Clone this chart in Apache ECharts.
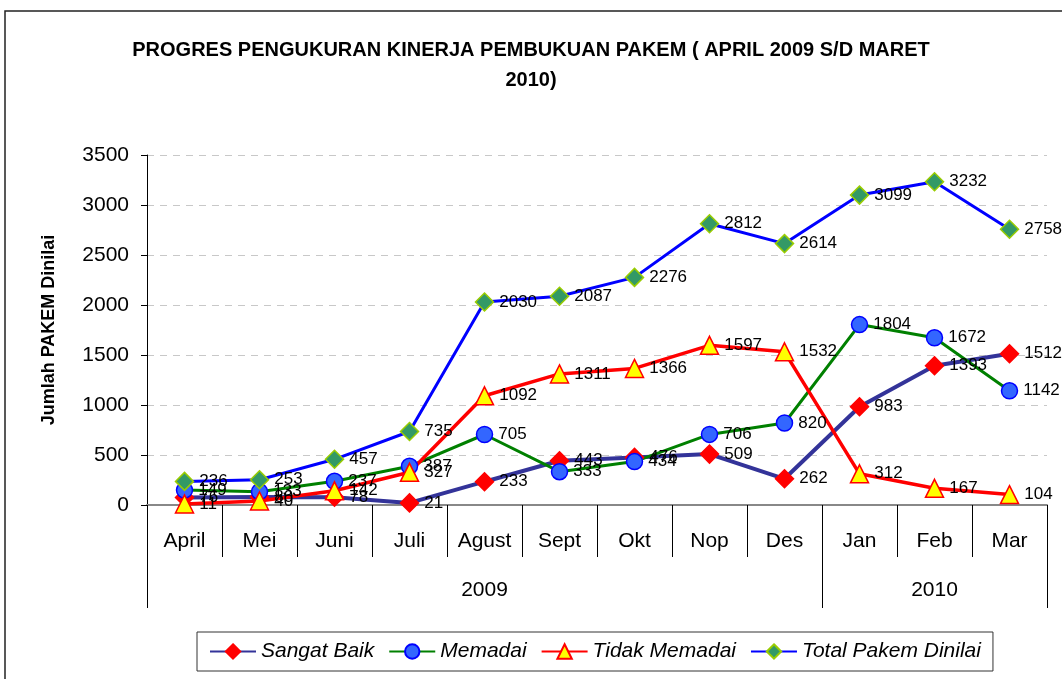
<!DOCTYPE html>
<html>
<head>
<meta charset="utf-8">
<script src="https://cdn.jsdelivr.net/npm/echarts@6/dist/echarts.min.js"></script>
<style>
  html, body { margin: 0; padding: 0; background: #fff; }
  #main { width: 1062px; height: 679px; }
</style>
</head>
<body>
<div id="main"></div>
<script>
var FONT = "'Liberation Sans Narrow', 'Arial Narrow', 'Liberation Sans', sans-serif";

// data
var months = ['April', 'Mei', 'Juni', 'Juli', 'Agust', 'Sept', 'Okt', 'Nop', 'Des', 'Jan', 'Feb', 'Mar'];
var years = ['2009', '2009', '2009', '2009', '2009', '2009', '2009', '2009', '2009', '2010', '2010', '2010'];
var sangatBaik = [76, 80, 78, 21, 233, 443, 476, 509, 262, 983, 1393, 1512];
var memadai = [149, 133, 237, 387, 705, 333, 434, 706, 820, 1804, 1672, 1142];
var tidakMemadai = [11, 40, 142, 327, 1092, 1311, 1366, 1597, 1532, 312, 167, 104];
var totalDinilai = [236, 253, 457, 735, 2030, 2087, 2276, 2812, 2614, 3099, 3232, 2758];

// first index and middle index of each year group
var yearStart = [];
var yearMiddle = [];
years.forEach(function (y, i) {
    if (i === 0 || years[i - 1] !== y) yearStart.push(i);
});
yearStart.forEach(function (s, k) {
    var e = k + 1 < yearStart.length ? yearStart[k + 1] - 1 : years.length - 1;
    yearMiddle.push(Math.floor((s + e) / 2));
});

var chart = echarts.init(document.getElementById('main'));

var labelStyle = {
    show: true,
    position: 'right',
    distance: 5,
    color: '#000',
    fontFamily: FONT,
    fontSize: 17
};

function makeSeries(name, data, lineColor, lineWidth, symbol, size, fill, border) {
    return {
        name: name,
        type: 'line',
        data: data,
        symbol: symbol,
        symbolSize: size,
        lineStyle: { color: lineColor, width: lineWidth },
        itemStyle: { color: fill, borderColor: border, borderWidth: 1.5 },
        label: labelStyle,
        emphasis: { disabled: true },
        animation: false
    };
}

var option = {
    backgroundColor: '#fff',
    title: {
        text: 'PROGRES PENGUKURAN KINERJA PEMBUKUAN PAKEM ( APRIL 2009 S/D MARET\n2010)',
        left: 'center',
        top: 30,
        textStyle: {
            fontFamily: FONT,
            fontSize: 20,
            fontWeight: 'bold',
            color: '#000',
            lineHeight: 30
        }
    },
    graphic: [{
        type: 'rect',
        shape: { x: 5, y: 11, width: 1100, height: 700 },
        style: { fill: 'none', stroke: '#222', lineWidth: 1.5 },
        silent: true
    }],
    legend: {
        left: 197,
        top: 632,
        width: 803,
        padding: [9, 12, 9, 12],
        itemGap: 14,
        itemWidth: 46,
        itemHeight: 18,
        borderColor: '#333',
        borderWidth: 1,
        textStyle: {
            fontFamily: FONT,
            fontSize: 21,
            fontStyle: 'italic',
            color: '#000'
        },
        data: ['Sangat Baik', 'Memadai', 'Tidak Memadai', 'Total Pakem Dinilai']
    },
    grid: {
        left: 147,
        right: 15,
        top: 155,
        bottom: 174
    },
    xAxis: [{
        type: 'category',
        data: months,
        position: 'bottom',
        boundaryGap: true,
        axisLine: { show: true, lineStyle: { color: '#888', width: 2 } },
        axisTick: { show: true, length: 52, lineStyle: { color: '#000', width: 1 } },
        axisLabel: {
            margin: 26,
            color: '#000',
            fontFamily: FONT,
            fontSize: 21
        }
    }, {
        type: 'category',
        data: years,
        position: 'bottom',
        boundaryGap: true,
        axisLine: { show: false },
        axisTick: {
            show: true,
            length: 103,
            interval: function (i) { return yearStart.indexOf(i) >= 0; },
            lineStyle: { color: '#000', width: 1 }
        },
        axisLabel: {
            margin: 75,
            interval: function (i) { return yearMiddle.indexOf(i) >= 0; },
            color: '#000',
            fontFamily: FONT,
            fontSize: 21
        }
    }],
    yAxis: {
        type: 'value',
        min: 0,
        max: 3500,
        interval: 500,
        name: 'Jumlah PAKEM Dinilai',
        nameLocation: 'middle',
        nameGap: 89,
        nameRotate: 90,
        nameTextStyle: {
            fontFamily: FONT,
            fontSize: 18,
            fontWeight: 'bold',
            color: '#000'
        },
        axisLine: { show: true, lineStyle: { color: '#000', width: 1 } },
        axisTick: { show: true, length: 6, lineStyle: { color: '#000' } },
        axisLabel: {
            margin: 18,
            color: '#000',
            fontFamily: FONT,
            fontSize: 21,
            formatter: function (v) { return String(v); }
        },
        splitLine: {
            lineStyle: { color: '#c8c8c8', type: [7, 6], width: 1 }
        }
    },
    series: [
        makeSeries('Sangat Baik', sangatBaik, '#333399', 4, 'diamond', 18, '#ff0000', '#ff0000'),
        makeSeries('Memadai', memadai, '#008000', 3, 'circle', 16, '#3366ff', '#0000ff'),
        makeSeries('Tidak Memadai', tidakMemadai, '#ff0000', 3.5, 'triangle', 18, '#ffff00', '#ff0000'),
        makeSeries('Total Pakem Dinilai', totalDinilai, '#0000ff', 3, 'diamond', 18, '#339966', '#99cc00')
    ]
};

chart.setOption(option);
</script>
</body>
</html>
